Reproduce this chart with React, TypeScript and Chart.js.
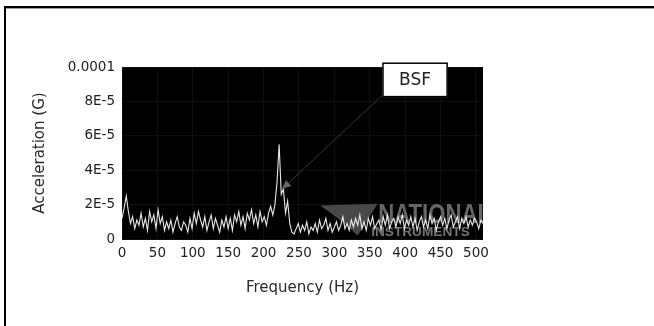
import { useEffect, useRef } from 'react';
import { Chart, registerables } from 'chart.js';

Chart.register(...registerables);

// ---- data (amplitude in units of 1E-5 G, sampled every FREQ_STEP Hz) ----
const FREQ_STEP = 3;
const UNIT = 1e-5;
const amplitudeE5 = [
  1.2, 1.8, 2.5, 1.6, 0.9, 1.3, 0.6, 1.1, 0.8, 1.5, 0.7,
  1.2, 0.5, 1.6, 1.0, 1.4, 0.6, 1.7, 0.9, 1.3, 0.5,
  1.0, 0.6, 1.1, 0.4, 0.9, 1.3, 0.7, 0.5, 1.0, 0.8,
  0.4, 1.2, 0.6, 1.5, 0.9, 1.6, 1.1, 0.7, 1.3, 0.5,
  1.0, 1.4, 0.6, 1.2, 0.8, 0.4, 1.1, 0.7, 1.3, 0.6,
  1.2, 0.5, 1.4, 1.0, 1.6, 0.8, 1.3, 0.6, 1.5, 1.1,
  1.7, 0.9, 1.4, 0.7, 1.6, 1.0, 1.3, 0.8, 1.5, 1.9,
  1.4, 2.0, 3.3, 5.5, 2.6, 2.9, 1.5, 2.2, 0.9, 0.4,
  0.3, 0.6, 0.9, 0.4, 0.8, 0.5, 1.0, 0.3, 0.7, 0.5,
  0.9, 0.4, 1.1, 0.6, 0.8, 1.2, 0.5, 0.9, 0.4, 0.7,
  1.0, 0.5, 0.8, 1.3, 0.6, 0.9, 0.5, 1.1, 0.7, 1.2,
  0.8, 1.4, 0.6, 1.0, 0.5, 1.2, 0.8, 1.3, 0.6, 0.9,
  1.1, 0.5, 1.3, 0.8, 1.4, 0.6, 1.0, 1.2, 0.7, 1.3,
  0.9, 1.4, 0.6, 1.1, 0.8, 1.3, 0.7, 1.2, 0.5, 1.0,
  1.3, 0.7, 1.1, 0.6, 1.4, 0.9, 1.2, 0.5, 1.0, 1.3,
  0.8, 1.2, 0.6, 1.1, 1.4, 0.7, 1.0, 1.3, 0.6, 1.2,
  0.9, 1.3, 0.7, 1.1, 0.8, 1.2, 1.0, 0.6, 1.1, 0.9,
];
const frequencies = amplitudeE5.map((_, i) => i * FREQ_STEP);

const X_MIN = 0;
const X_MAX = 510;
const xTickValues = [0, 50, 100, 150, 200, 250, 300, 350, 400, 450, 500];
const Y_MIN = 0;
const Y_MAX = 1e-4;
const yTickValues = [0, 2e-5, 4e-5, 6e-5, 8e-5, 1e-4];
const yTickLabels = ['0', '2E-5', '4E-5', '6E-5', '8E-5', '0.0001'];

const xTitle = 'Frequency (Hz)';
const yTitle = 'Acceleration (G)';

// annotation (data coordinates)
const annotationText = 'BSF';
const annotationTip = { x: 226, y: 2.9e-5 };
const annotationBox = { x0: 368, x1: 460, yTop: 1.025e-4, yBottom: 8.25e-5 };

// watermark
const watermarkLines = ['NATIONAL', 'INSTRUMENTS'];
const watermarkWing = [
  { x: 280, y: 1.95e-5 },
  { x: 361, y: 2.05e-5 },
  { x: 333, y: 0.2e-5 },
  { x: 305, y: 1.2e-5 },
];
const watermarkTextAnchor = { x: 362, y: 0.95e-5 };
const watermarkSubAnchor = { x: 352, y: 0.15e-5 };

const FONT = '"DejaVu Sans", sans-serif';

const decorPlugin = {
  id: 'decor',
  beforeDraw(chart: any) {
    const { ctx, chartArea: a, width, height } = chart;
    ctx.save();
    ctx.fillStyle = '#ffffff';
    ctx.fillRect(0, 0, width, height);
    ctx.fillStyle = '#000000';
    ctx.fillRect(a.left, a.top, a.right - a.left, a.bottom - a.top);
    ctx.restore();
  },
  beforeDatasetsDraw(chart: any) {
    const { ctx, chartArea: a, scales } = chart;
    const xs = scales.x;
    const ys = scales.y;
    ctx.save();
    ctx.beginPath();
    ctx.rect(a.left, a.top, a.right - a.left, a.bottom - a.top);
    ctx.clip();
    // wing
    ctx.fillStyle = '#484848';
    ctx.beginPath();
    watermarkWing.forEach((p, i) => {
      const px = xs.getPixelForValue(p.x);
      const py = ys.getPixelForValue(p.y);
      if (i === 0) ctx.moveTo(px, py);
      else ctx.lineTo(px, py);
    });
    ctx.closePath();
    ctx.fill();
    // text
    ctx.fillStyle = '#666666';
    ctx.font = `bold 27px "Liberation Sans", sans-serif`;
    ctx.textBaseline = 'alphabetic';
    ctx.save();
    ctx.translate(xs.getPixelForValue(watermarkTextAnchor.x), ys.getPixelForValue(watermarkTextAnchor.y));
    ctx.scale(0.82, 1);
    ctx.fillText(watermarkLines[0], 0, 0);
    ctx.restore();
    ctx.fillStyle = '#727272';
    ctx.font = `bold 13px "Liberation Sans", sans-serif`;
    ctx.save();
    ctx.translate(xs.getPixelForValue(watermarkSubAnchor.x), ys.getPixelForValue(watermarkSubAnchor.y));
    ctx.scale(1.05, 1);
    ctx.fillText(watermarkLines[1], 0, 0);
    ctx.restore();
    ctx.restore();
  },
  afterDatasetsDraw(chart: any) {
    const { ctx, scales } = chart;
    const xs = scales.x;
    const ys = scales.y;
    const bx0 = xs.getPixelForValue(annotationBox.x0);
    const bx1 = xs.getPixelForValue(annotationBox.x1);
    const by0 = ys.getPixelForValue(annotationBox.yTop);
    const by1 = ys.getPixelForValue(annotationBox.yBottom);
    const tx = xs.getPixelForValue(annotationTip.x);
    const ty = ys.getPixelForValue(annotationTip.y);
    ctx.save();
    // leader line
    ctx.strokeStyle = '#353535';
    ctx.lineWidth = 1;
    ctx.beginPath();
    ctx.moveTo(bx0, by1 - 2);
    ctx.lineTo(tx, ty);
    ctx.stroke();
    // arrowhead
    const ang = Math.atan2(ty - (by1 - 2), tx - bx0);
    const len = 9;
    const half = 4;
    ctx.fillStyle = '#666666';
    ctx.beginPath();
    ctx.moveTo(tx, ty);
    ctx.lineTo(tx - len * Math.cos(ang) + half * Math.sin(ang), ty - len * Math.sin(ang) - half * Math.cos(ang));
    ctx.lineTo(tx - len * Math.cos(ang) - half * Math.sin(ang), ty - len * Math.sin(ang) + half * Math.cos(ang));
    ctx.closePath();
    ctx.fill();
    // box
    ctx.fillStyle = '#ffffff';
    ctx.fillRect(bx0, by0, bx1 - bx0, by1 - by0);
    ctx.strokeStyle = '#000000';
    ctx.lineWidth = 1.5;
    ctx.strokeRect(bx0 + 0.5, by0 + 0.5, bx1 - bx0 - 1, by1 - by0 - 1);
    ctx.fillStyle = '#222222';
    ctx.font = `17px ${FONT}`;
    ctx.textAlign = 'center';
    ctx.textBaseline = 'middle';
    ctx.fillText(annotationText, (bx0 + bx1) / 2, (by0 + by1) / 2 + 1);
    ctx.restore();
  },
  afterDraw(chart: any) {
    const { ctx, width, height } = chart;
    ctx.save();
    ctx.fillStyle = '#000000';
    ctx.fillRect(4, 6, width - 4, 2);
    ctx.fillRect(4, 6, 2, height - 6);
    ctx.fillStyle = '#9a9a9a';
    ctx.fillRect(6, 8, width - 6, 1);
    ctx.restore();
  },
};

export default function App() {
  const ref = useRef<HTMLCanvasElement | null>(null);

  useEffect(() => {
    if (!ref.current) return;
    const chart = new Chart(ref.current, {
      type: 'line',
      data: {
        datasets: [
          {
            data: frequencies.map((f, i) => ({ x: f, y: amplitudeE5[i] * UNIT })),
            borderColor: '#e8e8e8',
            borderWidth: 1.1,
            pointRadius: 0,
            tension: 0,
            fill: false,
          },
        ],
      },
      options: {
        animation: false,
        responsive: false,
        maintainAspectRatio: false,
        layout: { padding: { top: 67, right: 171, left: 0, bottom: 0 } },
        plugins: {
          legend: { display: false },
          tooltip: { enabled: false },
        },
        scales: {
          x: {
            type: 'linear',
            min: X_MIN,
            max: X_MAX,
            afterBuildTicks: (s: any) => {
              s.ticks = xTickValues.map((value) => ({ value }));
            },
            afterFit: (s: any) => {
              s.height = 87;
            },
            grid: { color: '#0f0f0f', drawTicks: false },
            border: { display: false },
            ticks: {
              padding: 6,
              color: '#222222',
              font: { family: FONT, size: 13.5 },
              maxRotation: 0,
              autoSkip: false,
            },
            title: {
              display: true,
              text: xTitle,
              color: '#2a2a2a',
              font: { family: FONT, size: 15 },
              padding: { top: 0, bottom: 29 },
            },
          },
          y: {
            type: 'linear',
            min: Y_MIN,
            max: Y_MAX,
            afterBuildTicks: (s: any) => {
              s.ticks = yTickValues.map((value) => ({ value }));
            },
            afterFit: (s: any) => {
              s.width = 122;
            },
            grid: { color: '#0f0f0f', drawTicks: false },
            border: { display: false },
            ticks: {
              padding: 7,
              color: '#222222',
              font: { family: FONT, size: 13.5 },
              callback: (_v: any, i: number) => yTickLabels[i],
            },
            title: {
              display: true,
              text: yTitle,
              color: '#2a2a2a',
              font: { family: FONT, size: 15 },
              padding: { top: 31, bottom: 0 },
            },
          },
        },
      },
      plugins: [decorPlugin],
    });
    return () => chart.destroy();
  }, []);

  return (
    <div style={{ position: 'fixed', left: 0, top: 0, width: 654, height: 326, background: '#fff' }}>
      <canvas ref={ref} width={654} height={326} style={{ display: 'block', width: 654, height: 326 }} />
    </div>
  );
}
